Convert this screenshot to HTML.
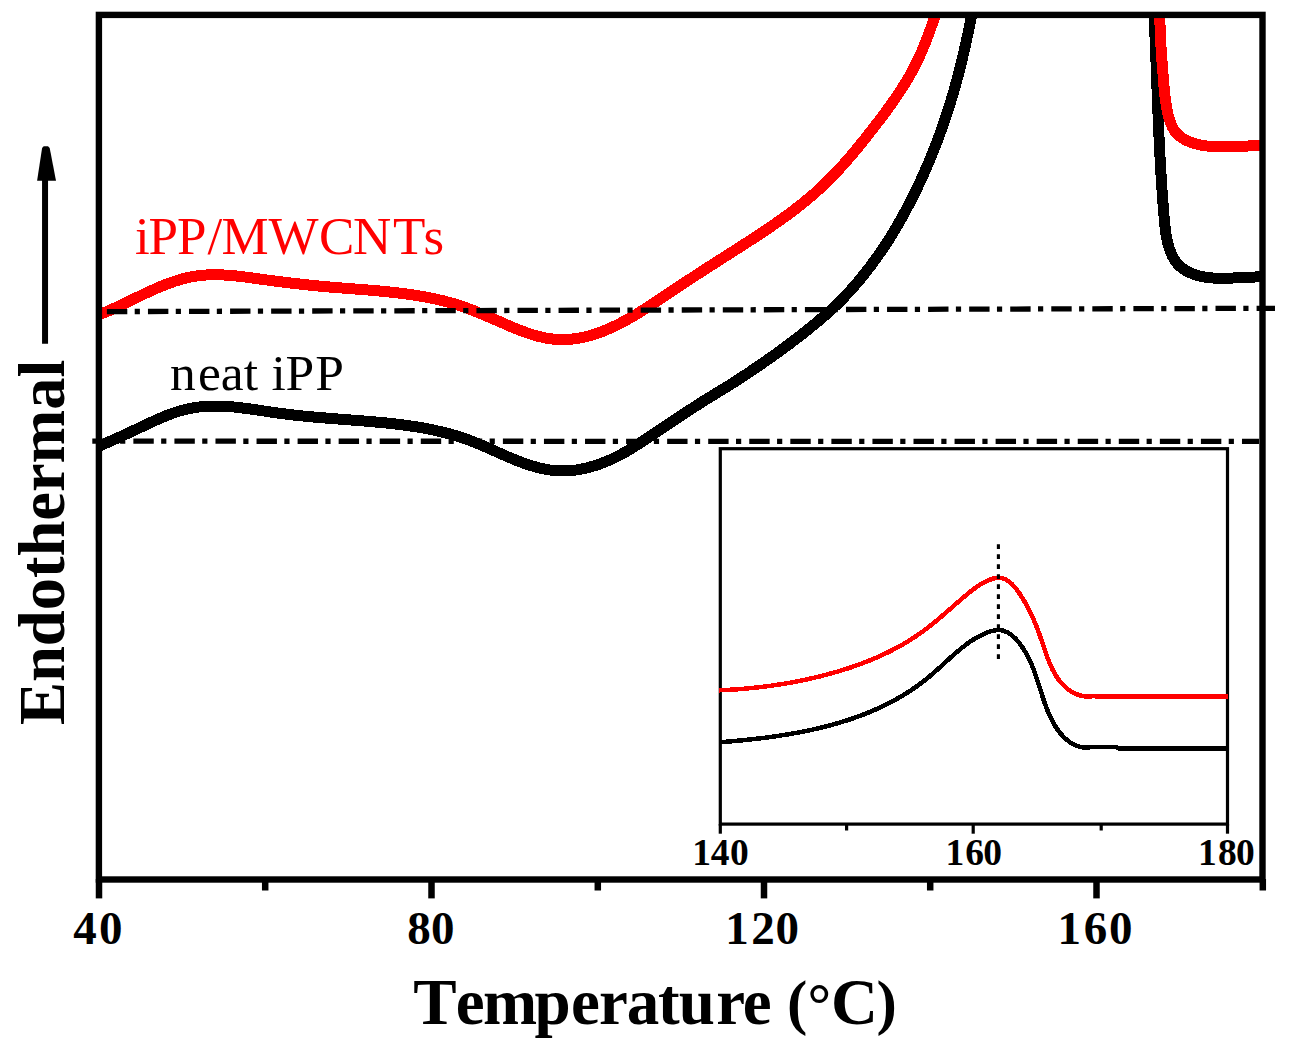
<!DOCTYPE html>
<html><head><meta charset="utf-8"><style>
html,body{margin:0;padding:0;background:#fff;overflow:hidden;}
svg{display:block;}
text{font-family:"Liberation Serif",serif;}
</style></head><body>
<svg width="1289" height="1055" viewBox="0 0 1289 1055">
<rect width="1289" height="1055" fill="#fff"/>
<defs><clipPath id="pc"><rect x="99" y="15" width="1163" height="864"/></clipPath></defs>
<g clip-path="url(#pc)" shape-rendering="crispEdges" fill="none" stroke-width="11" stroke-linejoin="round" stroke-linecap="butt">
<path d="M95.98,447.35 L98.64,446.25 L101.28,445.14 L103.92,444.02 L106.56,442.88 L109.19,441.73 L111.81,440.57 L114.43,439.40 L117.05,438.23 L119.66,437.04 L122.27,435.85 L124.88,434.64 L127.48,433.44 L130.09,432.22 L132.69,431.01 L135.30,429.79 L137.90,428.56 L140.51,427.33 L143.12,426.11 L145.73,424.88 L148.34,423.65 L150.96,422.42 L153.58,421.21 L156.21,420.01 L158.85,418.83 L161.50,417.67 L164.16,416.55 L166.83,415.47 L169.51,414.43 L172.21,413.43 L174.92,412.50 L177.65,411.61 L180.39,410.80 L183.16,410.04 L185.93,409.35 L188.73,408.73 L191.53,408.16 L194.34,407.67 L197.17,407.23 L200.00,406.87 L202.85,406.56 L205.69,406.33 L208.55,406.16 L211.41,406.05 L214.27,406.01 L217.14,406.02 L220.00,406.08 L222.88,406.19 L225.75,406.35 L228.62,406.55 L231.50,406.79 L234.37,407.06 L237.25,407.36 L240.12,407.69 L242.99,408.05 L245.87,408.42 L248.73,408.81 L251.60,409.21 L254.46,409.62 L257.32,410.03 L260.18,410.45 L263.03,410.87 L265.89,411.30 L268.74,411.72 L271.59,412.13 L274.44,412.54 L277.28,412.94 L280.13,413.33 L282.98,413.70 L285.83,414.06 L288.68,414.41 L291.53,414.74 L294.37,415.07 L297.22,415.38 L300.07,415.68 L302.92,415.98 L305.78,416.26 L308.63,416.53 L311.48,416.80 L314.33,417.06 L317.19,417.31 L320.04,417.56 L322.90,417.80 L325.75,418.04 L328.61,418.27 L331.47,418.50 L334.33,418.72 L337.19,418.94 L340.06,419.16 L342.92,419.38 L345.79,419.60 L348.66,419.82 L351.53,420.04 L354.40,420.26 L357.27,420.48 L360.14,420.71 L363.02,420.93 L365.89,421.17 L368.77,421.40 L371.65,421.65 L374.53,421.90 L377.40,422.15 L380.28,422.42 L383.15,422.69 L386.03,422.98 L388.90,423.28 L391.77,423.59 L394.64,423.91 L397.50,424.24 L400.37,424.59 L403.23,424.96 L406.08,425.34 L408.94,425.74 L411.78,426.16 L414.63,426.59 L417.47,427.05 L420.30,427.52 L423.13,428.02 L425.96,428.54 L428.77,429.08 L431.59,429.65 L434.39,430.24 L437.19,430.85 L439.98,431.50 L442.77,432.17 L445.54,432.87 L448.31,433.59 L451.07,434.35 L453.82,435.14 L456.56,435.96 L459.30,436.81 L462.02,437.70 L464.73,438.62 L467.43,439.58 L470.13,440.57 L472.81,441.60 L475.48,442.66 L478.15,443.74 L480.80,444.86 L483.45,445.99 L486.10,447.15 L488.74,448.31 L491.38,449.49 L494.02,450.67 L496.65,451.86 L499.29,453.04 L501.93,454.22 L504.58,455.38 L507.22,456.54 L509.87,457.68 L512.53,458.80 L515.20,459.89 L517.88,460.96 L520.56,461.99 L523.26,462.99 L525.97,463.95 L528.69,464.86 L531.42,465.73 L534.18,466.55 L536.94,467.31 L539.72,468.01 L542.51,468.65 L545.31,469.22 L548.12,469.72 L550.94,470.15 L553.77,470.49 L556.61,470.75 L559.45,470.92 L562.29,471.00 L565.14,470.98 L567.99,470.87 L570.85,470.65 L573.70,470.34 L576.55,469.95 L579.39,469.47 L582.22,468.92 L585.05,468.30 L587.86,467.61 L590.66,466.86 L593.44,466.05 L596.21,465.18 L598.96,464.25 L601.68,463.27 L604.39,462.23 L607.07,461.14 L609.73,459.99 L612.36,458.80 L614.96,457.56 L617.53,456.27 L620.08,454.94 L622.60,453.57 L625.10,452.16 L627.57,450.72 L630.03,449.25 L632.47,447.75 L634.90,446.23 L637.32,444.69 L639.73,443.14 L642.13,441.57 L644.52,439.99 L646.92,438.41 L649.31,436.82 L651.70,435.23 L654.09,433.64 L656.48,432.04 L658.87,430.44 L661.26,428.84 L663.65,427.24 L666.04,425.64 L668.43,424.04 L670.83,422.44 L673.22,420.85 L675.62,419.25 L678.01,417.66 L680.41,416.06 L682.82,414.48 L685.22,412.89 L687.63,411.32 L690.04,409.74 L692.45,408.17 L694.87,406.61 L697.29,405.06 L699.71,403.51 L702.14,401.97 L704.58,400.44 L707.01,398.92 L709.46,397.41 L711.91,395.91 L714.36,394.41 L716.81,392.92 L719.26,391.43 L721.72,389.94 L724.17,388.44 L726.61,386.94 L729.05,385.43 L731.49,383.90 L733.91,382.37 L736.33,380.81 L738.74,379.25 L741.14,377.68 L743.54,376.09 L745.94,374.51 L748.33,372.91 L750.72,371.31 L753.11,369.71 L755.50,368.09 L757.88,366.47 L760.25,364.85 L762.62,363.21 L764.99,361.57 L767.35,359.93 L769.71,358.27 L772.06,356.61 L774.40,354.94 L776.74,353.27 L779.08,351.58 L781.40,349.89 L783.72,348.19 L786.03,346.48 L788.34,344.77 L790.63,343.04 L792.92,341.31 L795.21,339.56 L797.48,337.81 L799.75,336.05 L802.01,334.28 L804.26,332.50 L806.51,330.71 L808.75,328.91 L810.98,327.10 L813.20,325.28 L815.41,323.45 L817.62,321.60 L819.82,319.75 L822.01,317.88 L824.19,316.00 L826.35,314.11 L828.50,312.20 L830.63,310.27 L832.75,308.32 L834.85,306.36 L836.93,304.37 L838.99,302.37 L841.03,300.34 L843.05,298.29 L845.05,296.22 L847.03,294.13 L848.99,292.02 L850.92,289.89 L852.84,287.75 L854.74,285.58 L856.61,283.40 L858.47,281.20 L860.31,278.99 L862.13,276.76 L863.94,274.52 L865.72,272.26 L867.49,269.99 L869.24,267.70 L870.97,265.41 L872.69,263.10 L874.39,260.78 L876.08,258.45 L877.74,256.11 L879.39,253.76 L881.03,251.40 L882.65,249.03 L884.25,246.65 L885.83,244.26 L887.40,241.86 L888.95,239.45 L890.48,237.03 L891.99,234.59 L893.48,232.15 L894.96,229.70 L896.41,227.23 L897.85,224.76 L899.27,222.27 L900.67,219.78 L902.06,217.27 L903.44,214.76 L904.80,212.24 L906.16,209.71 L907.50,207.17 L908.83,204.62 L910.15,202.07 L911.46,199.51 L912.75,196.94 L914.03,194.37 L915.30,191.79 L916.56,189.20 L917.81,186.60 L919.04,184.00 L920.26,181.39 L921.47,178.77 L922.66,176.15 L923.85,173.52 L925.02,170.89 L926.17,168.25 L927.32,165.61 L928.45,162.96 L929.57,160.30 L930.67,157.64 L931.76,154.98 L932.84,152.31 L933.91,149.64 L934.96,146.96 L936.00,144.28 L937.03,141.59 L938.04,138.90 L939.04,136.21 L940.03,133.51 L941.01,130.81 L941.97,128.10 L942.92,125.39 L943.86,122.68 L944.78,119.96 L945.69,117.24 L946.59,114.51 L947.48,111.78 L948.36,109.05 L949.22,106.31 L950.08,103.57 L950.92,100.82 L951.75,98.07 L952.56,95.32 L953.37,92.56 L954.17,89.81 L954.95,87.04 L955.72,84.27 L956.48,81.50 L957.24,78.73 L957.98,75.95 L958.70,73.17 L959.42,70.38 L960.13,67.60 L960.83,64.80 L961.52,62.01 L962.19,59.21 L962.86,56.41 L963.52,53.60 L964.16,50.80 L964.80,47.99 L965.43,45.17 L966.05,42.36 L966.66,39.54 L967.26,36.73 L967.85,33.91 L968.43,31.09 L969.00,28.27 L969.56,25.45 L970.12,22.63 L970.67,19.81 L971.21,16.98 L971.74,14.16 L972.26,11.34 L972.77,8.52 L973.28,5.70 L973.78,2.88 L974.27,0.07" stroke="#000"/>
<path d="M1153.37,-0.08 L1153.46,1.74 L1153.55,3.57 L1153.64,5.39 L1153.73,7.22 L1153.81,9.04 L1153.90,10.86 L1153.98,12.69 L1154.07,14.51 L1154.15,16.33 L1154.23,18.15 L1154.31,19.97 L1154.39,21.79 L1154.47,23.61 L1154.55,25.43 L1154.63,27.25 L1154.71,29.07 L1154.78,30.88 L1154.86,32.70 L1154.94,34.52 L1155.01,36.33 L1155.08,38.15 L1155.16,39.96 L1155.23,41.78 L1155.30,43.59 L1155.38,45.41 L1155.45,47.22 L1155.52,49.03 L1155.59,50.85 L1155.66,52.66 L1155.73,54.47 L1155.80,56.28 L1155.87,58.09 L1155.94,59.90 L1156.01,61.72 L1156.07,63.53 L1156.14,65.34 L1156.21,67.15 L1156.28,68.96 L1156.35,70.77 L1156.41,72.58 L1156.48,74.39 L1156.55,76.19 L1156.62,78.00 L1156.69,79.81 L1156.75,81.62 L1156.82,83.43 L1156.89,85.24 L1156.96,87.05 L1157.03,88.85 L1157.10,90.66 L1157.17,92.47 L1157.23,94.28 L1157.30,96.09 L1157.37,97.89 L1157.44,99.70 L1157.51,101.51 L1157.59,103.32 L1157.66,105.12 L1157.73,106.93 L1157.80,108.74 L1157.88,110.55 L1157.95,112.36 L1158.02,114.16 L1158.10,115.97 L1158.17,117.78 L1158.25,119.59 L1158.33,121.39 L1158.40,123.20 L1158.48,125.01 L1158.56,126.82 L1158.64,128.63 L1158.72,130.44 L1158.80,132.25 L1158.89,134.06 L1158.97,135.86 L1159.05,137.67 L1159.14,139.48 L1159.22,141.29 L1159.31,143.10 L1159.40,144.91 L1159.49,146.72 L1159.58,148.54 L1159.67,150.35 L1159.77,152.16 L1159.86,153.97 L1159.95,155.78 L1160.05,157.59 L1160.15,159.41 L1160.25,161.22 L1160.35,163.03 L1160.45,164.85 L1160.55,166.66 L1160.66,168.48 L1160.77,170.29 L1160.87,172.11 L1160.98,173.92 L1161.09,175.74 L1161.21,177.56 L1161.32,179.37 L1161.44,181.19 L1161.55,183.01 L1161.67,184.83 L1161.79,186.65 L1161.91,188.47 L1162.04,190.29 L1162.16,192.11 L1162.29,193.93 L1162.42,195.75 L1162.55,197.57 L1162.69,199.40 L1162.82,201.22 L1162.96,203.04 L1163.10,204.87 L1163.24,206.69 L1163.38,208.52 L1163.53,210.35 L1163.68,212.18 L1163.83,214.00 L1163.98,215.83 L1164.13,217.66 L1164.29,219.49 L1164.45,221.32 L1164.63,223.15 L1164.81,224.97 L1165.00,226.79 L1165.21,228.61 L1165.44,230.42 L1165.69,232.23 L1165.96,234.03 L1166.26,235.82 L1166.58,237.60 L1166.93,239.38 L1167.31,241.14 L1167.73,242.89 L1168.18,244.63 L1168.67,246.35 L1169.21,248.07 L1169.78,249.76 L1170.41,251.44 L1171.08,253.11 L1171.80,254.75 L1172.57,256.37 L1173.41,257.96 L1174.31,259.50 L1175.28,260.99 L1176.32,262.43 L1177.44,263.79 L1178.64,265.08 L1179.91,266.29 L1181.26,267.44 L1182.66,268.52 L1184.13,269.52 L1185.64,270.47 L1187.21,271.35 L1188.81,272.16 L1190.46,272.92 L1192.13,273.62 L1193.83,274.25 L1195.55,274.84 L1197.29,275.36 L1199.04,275.84 L1200.81,276.26 L1202.59,276.64 L1204.37,276.97 L1206.17,277.26 L1207.98,277.50 L1209.80,277.71 L1211.62,277.88 L1213.45,278.02 L1215.28,278.13 L1217.12,278.21 L1218.97,278.26 L1220.81,278.28 L1222.66,278.29 L1224.51,278.27 L1226.36,278.23 L1228.21,278.18 L1230.05,278.12 L1231.89,278.05 L1233.73,277.96 L1235.56,277.88 L1237.39,277.78 L1239.21,277.69 L1241.02,277.60 L1242.83,277.51 L1244.62,277.42 L1246.41,277.34 L1248.19,277.26 L1249.97,277.19 L1251.75,277.12 L1253.53,277.06 L1255.31,277.00 L1257.09,276.95 L1258.88,276.90 L1260.68,276.85 L1262.49,276.81 L1264.30,276.77 L1266.13,276.73 L1267.98,276.70" stroke="#000"/>
<path d="M96.10,315.77 L98.38,314.93 L100.66,314.06 L102.94,313.15 L105.22,312.22 L107.50,311.26 L109.78,310.28 L112.06,309.27 L114.34,308.24 L116.63,307.19 L118.91,306.13 L121.20,305.05 L123.48,303.96 L125.77,302.86 L128.06,301.76 L130.35,300.64 L132.65,299.53 L134.94,298.41 L137.25,297.29 L139.55,296.18 L141.85,295.07 L144.16,293.97 L146.48,292.88 L148.80,291.80 L151.12,290.73 L153.44,289.68 L155.77,288.65 L158.11,287.64 L160.45,286.65 L162.80,285.69 L165.15,284.75 L167.51,283.84 L169.87,282.97 L172.24,282.12 L174.61,281.31 L177.00,280.54 L179.39,279.81 L181.78,279.12 L184.18,278.48 L186.60,277.88 L189.01,277.33 L191.44,276.83 L193.88,276.39 L196.32,275.99 L198.77,275.66 L201.23,275.38 L203.70,275.15 L206.17,274.98 L208.66,274.86 L211.15,274.78 L213.64,274.74 L216.14,274.75 L218.65,274.79 L221.16,274.88 L223.67,274.99 L226.19,275.14 L228.71,275.32 L231.24,275.53 L233.77,275.76 L236.30,276.01 L238.83,276.29 L241.36,276.58 L243.89,276.88 L246.42,277.20 L248.96,277.54 L251.49,277.87 L254.02,278.22 L256.55,278.57 L259.07,278.92 L261.60,279.27 L264.12,279.61 L266.64,279.95 L269.15,280.29 L271.67,280.62 L274.18,280.95 L276.69,281.28 L279.19,281.59 L281.70,281.91 L284.20,282.22 L286.70,282.52 L289.20,282.82 L291.70,283.12 L294.19,283.41 L296.69,283.70 L299.19,283.98 L301.68,284.25 L304.18,284.52 L306.67,284.79 L309.16,285.05 L311.66,285.31 L314.15,285.56 L316.65,285.81 L319.15,286.05 L321.64,286.28 L324.14,286.51 L326.64,286.74 L329.14,286.96 L331.64,287.18 L334.15,287.39 L336.65,287.59 L339.16,287.79 L341.67,287.99 L344.18,288.19 L346.69,288.38 L349.20,288.57 L351.72,288.76 L354.23,288.95 L356.75,289.15 L359.26,289.34 L361.78,289.53 L364.29,289.73 L366.81,289.93 L369.33,290.13 L371.84,290.34 L374.36,290.56 L376.88,290.77 L379.39,291.00 L381.91,291.23 L384.42,291.47 L386.94,291.72 L389.45,291.97 L391.97,292.24 L394.48,292.51 L396.99,292.80 L399.50,293.09 L402.01,293.40 L404.52,293.72 L407.02,294.06 L409.53,294.40 L412.03,294.76 L414.53,295.14 L417.03,295.53 L419.52,295.94 L422.02,296.37 L424.51,296.81 L426.99,297.27 L429.47,297.75 L431.95,298.26 L434.42,298.78 L436.88,299.32 L439.34,299.88 L441.79,300.47 L444.23,301.08 L446.67,301.72 L449.09,302.38 L451.51,303.06 L453.92,303.77 L456.31,304.51 L458.70,305.28 L461.07,306.07 L463.44,306.88 L465.80,307.72 L468.15,308.58 L470.49,309.46 L472.83,310.36 L475.16,311.28 L477.49,312.22 L479.81,313.17 L482.14,314.13 L484.45,315.10 L486.77,316.09 L489.09,317.08 L491.41,318.09 L493.73,319.10 L496.05,320.11 L498.37,321.13 L500.70,322.15 L503.03,323.17 L505.37,324.19 L507.71,325.21 L510.06,326.21 L512.41,327.20 L514.77,328.18 L517.13,329.14 L519.50,330.08 L521.87,330.99 L524.25,331.87 L526.63,332.72 L529.02,333.54 L531.42,334.32 L533.83,335.06 L536.24,335.76 L538.66,336.40 L541.08,337.00 L543.51,337.54 L545.96,338.03 L548.40,338.45 L550.86,338.82 L553.32,339.11 L555.80,339.34 L558.28,339.49 L560.77,339.57 L563.26,339.58 L565.76,339.52 L568.25,339.40 L570.75,339.21 L573.25,338.95 L575.74,338.63 L578.23,338.25 L580.71,337.81 L583.19,337.30 L585.65,336.75 L588.11,336.13 L590.55,335.46 L592.98,334.74 L595.39,333.97 L597.79,333.15 L600.18,332.29 L602.56,331.39 L604.92,330.44 L607.26,329.46 L609.59,328.45 L611.90,327.40 L614.20,326.32 L616.48,325.21 L618.74,324.08 L620.99,322.92 L623.22,321.74 L625.44,320.54 L627.64,319.31 L629.83,318.07 L632.01,316.80 L634.18,315.52 L636.34,314.23 L638.49,312.91 L640.63,311.59 L642.76,310.25 L644.88,308.90 L647.00,307.53 L649.11,306.16 L651.22,304.79 L653.33,303.40 L655.43,302.01 L657.52,300.62 L659.62,299.22 L661.72,297.82 L663.81,296.42 L665.91,295.02 L668.00,293.62 L670.10,292.23 L672.20,290.83 L674.30,289.44 L676.41,288.05 L678.51,286.66 L680.61,285.27 L682.72,283.89 L684.83,282.50 L686.94,281.12 L689.05,279.74 L691.16,278.36 L693.27,276.98 L695.38,275.61 L697.50,274.23 L699.61,272.86 L701.73,271.49 L703.85,270.12 L705.97,268.75 L708.09,267.39 L710.21,266.02 L712.33,264.66 L714.45,263.30 L716.58,261.94 L718.70,260.58 L720.83,259.22 L722.96,257.87 L725.08,256.51 L727.21,255.16 L729.34,253.80 L731.46,252.44 L733.59,251.09 L735.72,249.73 L737.84,248.37 L739.97,247.01 L742.09,245.65 L744.21,244.28 L746.33,242.91 L748.45,241.54 L750.57,240.17 L752.68,238.79 L754.79,237.41 L756.90,236.03 L759.01,234.64 L761.11,233.24 L763.21,231.84 L765.31,230.44 L767.40,229.03 L769.49,227.61 L771.58,226.19 L773.66,224.76 L775.73,223.32 L777.80,221.87 L779.86,220.42 L781.91,218.96 L783.96,217.49 L786.00,216.01 L788.04,214.52 L790.06,213.02 L792.08,211.51 L794.09,209.99 L796.09,208.46 L798.08,206.91 L800.06,205.36 L802.03,203.79 L803.99,202.22 L805.94,200.62 L807.87,199.02 L809.80,197.40 L811.71,195.77 L813.61,194.12 L815.50,192.46 L817.37,190.79 L819.23,189.10 L821.08,187.39 L822.91,185.67 L824.73,183.93 L826.53,182.18 L828.32,180.41 L830.10,178.63 L831.87,176.83 L833.62,175.02 L835.36,173.20 L837.09,171.37 L838.81,169.52 L840.51,167.66 L842.21,165.79 L843.89,163.91 L845.57,162.02 L847.23,160.12 L848.89,158.21 L850.54,156.30 L852.17,154.37 L853.80,152.43 L855.43,150.49 L857.04,148.54 L858.65,146.58 L860.24,144.62 L861.84,142.65 L863.42,140.68 L865.00,138.70 L866.57,136.71 L868.14,134.73 L869.70,132.74 L871.26,130.74 L872.81,128.74 L874.36,126.74 L875.90,124.74 L877.44,122.73 L878.98,120.73 L880.51,118.72 L882.03,116.70 L883.54,114.68 L885.05,112.66 L886.55,110.63 L888.03,108.60 L889.51,106.56 L890.98,104.51 L892.43,102.46 L893.88,100.40 L895.31,98.33 L896.73,96.26 L898.13,94.17 L899.52,92.08 L900.89,89.98 L902.25,87.87 L903.59,85.75 L904.91,83.62 L906.22,81.47 L907.50,79.32 L908.77,77.15 L910.02,74.98 L911.24,72.78 L912.45,70.58 L913.63,68.36 L914.79,66.13 L915.92,63.89 L917.04,61.63 L918.13,59.35 L919.19,57.06 L920.24,54.76 L921.26,52.45 L922.26,50.13 L923.25,47.80 L924.21,45.46 L925.16,43.11 L926.09,40.75 L927.01,38.39 L927.91,36.02 L928.80,33.64 L929.67,31.27 L930.53,28.88 L931.38,26.50 L932.22,24.11 L933.05,21.73 L933.87,19.34 L934.68,16.95 L935.48,14.57 L936.28,12.19 L937.07,9.81 L937.85,7.43 L938.63,5.06" stroke="#f00"/>
<path d="M1160.12,-0.04 L1160.08,1.14 L1160.04,2.31 L1160.00,3.48 L1159.97,4.66 L1159.95,5.83 L1159.93,7.00 L1159.91,8.17 L1159.89,9.33 L1159.88,10.50 L1159.87,11.67 L1159.87,12.83 L1159.87,13.99 L1159.87,15.16 L1159.88,16.32 L1159.88,17.48 L1159.90,18.64 L1159.91,19.80 L1159.93,20.96 L1159.95,22.11 L1159.97,23.27 L1160.00,24.43 L1160.03,25.58 L1160.06,26.74 L1160.10,27.89 L1160.14,29.04 L1160.18,30.20 L1160.22,31.35 L1160.26,32.50 L1160.31,33.65 L1160.36,34.80 L1160.41,35.96 L1160.47,37.11 L1160.52,38.26 L1160.58,39.41 L1160.64,40.56 L1160.70,41.71 L1160.77,42.86 L1160.83,44.01 L1160.90,45.16 L1160.97,46.31 L1161.04,47.46 L1161.11,48.60 L1161.19,49.75 L1161.26,50.90 L1161.34,52.05 L1161.42,53.20 L1161.50,54.35 L1161.58,55.51 L1161.66,56.66 L1161.74,57.81 L1161.82,58.96 L1161.91,60.11 L1161.99,61.26 L1162.08,62.42 L1162.17,63.57 L1162.25,64.72 L1162.34,65.88 L1162.43,67.03 L1162.52,68.19 L1162.61,69.34 L1162.70,70.50 L1162.79,71.66 L1162.88,72.81 L1162.98,73.97 L1163.07,75.13 L1163.16,76.29 L1163.25,77.46 L1163.34,78.62 L1163.43,79.78 L1163.53,80.95 L1163.62,82.11 L1163.71,83.28 L1163.81,84.44 L1163.91,85.61 L1164.01,86.77 L1164.11,87.94 L1164.22,89.11 L1164.33,90.27 L1164.44,91.44 L1164.56,92.60 L1164.68,93.77 L1164.81,94.93 L1164.94,96.10 L1165.08,97.26 L1165.23,98.42 L1165.38,99.58 L1165.54,100.74 L1165.70,101.90 L1165.87,103.06 L1166.05,104.22 L1166.24,105.37 L1166.44,106.52 L1166.65,107.67 L1166.86,108.82 L1167.09,109.97 L1167.32,111.12 L1167.57,112.26 L1167.83,113.40 L1168.09,114.54 L1168.37,115.67 L1168.66,116.80 L1168.97,117.93 L1169.29,119.05 L1169.63,120.16 L1169.99,121.26 L1170.37,122.35 L1170.77,123.42 L1171.20,124.48 L1171.65,125.52 L1172.12,126.54 L1172.63,127.54 L1173.16,128.52 L1173.73,129.47 L1174.32,130.40 L1174.96,131.31 L1175.62,132.18 L1176.33,133.02 L1177.07,133.83 L1177.85,134.61 L1178.66,135.36 L1179.51,136.08 L1180.39,136.77 L1181.29,137.43 L1182.23,138.06 L1183.19,138.67 L1184.17,139.24 L1185.18,139.79 L1186.21,140.32 L1187.26,140.82 L1188.33,141.29 L1189.41,141.74 L1190.50,142.17 L1191.61,142.57 L1192.73,142.95 L1193.86,143.31 L1195.00,143.64 L1196.15,143.96 L1197.30,144.25 L1198.45,144.52 L1199.61,144.78 L1200.77,145.02 L1201.93,145.23 L1203.10,145.44 L1204.27,145.62 L1205.45,145.79 L1206.62,145.94 L1207.80,146.08 L1208.97,146.20 L1210.15,146.32 L1211.33,146.42 L1212.51,146.50 L1213.69,146.58 L1214.86,146.64 L1216.04,146.70 L1217.21,146.75 L1218.39,146.78 L1219.56,146.81 L1220.72,146.83 L1221.89,146.85 L1223.05,146.86 L1224.21,146.86 L1225.37,146.86 L1226.52,146.85 L1227.67,146.83 L1228.82,146.82 L1229.97,146.79 L1231.12,146.76 L1232.27,146.73 L1233.41,146.69 L1234.56,146.65 L1235.70,146.61 L1236.85,146.56 L1237.99,146.51 L1239.13,146.46 L1240.27,146.41 L1241.41,146.35 L1242.56,146.30 L1243.70,146.24 L1244.84,146.18 L1245.98,146.12 L1247.13,146.06 L1248.27,146.00 L1249.42,145.94 L1250.57,145.88 L1251.72,145.82 L1252.87,145.76 L1254.02,145.71 L1255.17,145.65 L1256.33,145.60 L1257.49,145.55 L1258.65,145.51 L1259.81,145.46 L1260.98,145.42 L1262.14,145.38 L1263.32,145.35 L1264.49,145.32 L1265.67,145.30 L1266.85,145.28 L1268.04,145.26" stroke="#f00"/>
</g>
<g stroke="#000" stroke-width="5.3" fill="none" stroke-dasharray="20.4 7.4 5.2 8.06">
<line x1="106.9" y1="311.6" x2="1275" y2="308.3"/>
<line x1="92.3" y1="441.2" x2="1259" y2="441.4"/>
</g>
<rect x="98.9" y="14.9" width="1163.6" height="864.6" fill="none" stroke="#000" stroke-width="6.4"/>
<g stroke="#000" stroke-width="6.5"><line x1="99.0" y1="879" x2="99.0" y2="898.4"/><line x1="265.2" y1="879" x2="265.2" y2="890.5"/><line x1="431.5" y1="879" x2="431.5" y2="898.4"/><line x1="597.8" y1="879" x2="597.8" y2="890.5"/><line x1="764.0" y1="879" x2="764.0" y2="898.4"/><line x1="930.2" y1="879" x2="930.2" y2="890.5"/><line x1="1096.5" y1="879" x2="1096.5" y2="898.4"/><line x1="1262.8" y1="879" x2="1262.8" y2="890.5"/></g>
<g font-size="47" font-weight="bold" fill="#000"><text x="73.20 99.05" y="943.9">40</text><text x="407.20 430.95" y="943.9">80</text><text x="725.20 751.30 775.55" y="943.9">120</text><text x="1057.60 1083.70 1109.05" y="943.9">160</text></g>
<g font-weight="bold"><text x="413.2 455.8 483.1 534.4 571.0 599.1 626.8 657.9 678.7 716.3 742.8" y="1023.7" font-size="65">Temperature</text><text x="830.9" y="1023.7" font-size="65">C</text><text x="787.0" y="1022.9" font-size="61">(</text><text x="876.45" y="1022.9" font-size="61">)</text><text x="807.4" y="1024.8" font-size="59">°</text></g>
<text transform="translate(63.9,725.1) rotate(-90)" x="0" y="0" font-size="65" font-weight="bold" textLength="365.5" lengthAdjust="spacingAndGlyphs">Endothermal</text>
<line x1="45.05" y1="180" x2="45.05" y2="343.8" stroke="#000" stroke-width="6"/>
<path d="M43.7,146.2 L48,146.2 L49.7,148 L56,180.8 L37.1,180.8 L42.1,148 Z" fill="#000"/>
<text x="135.0 148.4 177.0 207.4 221.6 268.6 318.9 353.1 393.0 423.5" y="253.8" font-size="53" fill="#f00">iPP/MWCNTs</text>
<text x="169.9 198.0 220.8 243.8 258.2 271.5 285.5 315.3" y="389.7" font-size="51.5" fill="#000">neat iPP</text>
<rect x="720.3" y="448.7" width="507.2" height="375.4" fill="#fff" stroke="#000" stroke-width="3.2"/>
<g fill="none" stroke-width="4.5" stroke-linejoin="round" shape-rendering="crispEdges">
<path d="M719.01,690.32 L720.58,690.25 L722.16,690.18 L723.73,690.10 L725.30,690.02 L726.87,689.94 L728.45,689.85 L730.02,689.76 L731.59,689.66 L733.17,689.56 L734.74,689.46 L736.31,689.35 L737.88,689.23 L739.45,689.11 L741.02,688.99 L742.59,688.86 L744.16,688.73 L745.73,688.59 L747.30,688.45 L748.87,688.30 L750.44,688.15 L752.01,687.99 L753.58,687.83 L755.15,687.67 L756.71,687.50 L758.28,687.32 L759.85,687.14 L761.41,686.96 L762.98,686.77 L764.54,686.58 L766.11,686.38 L767.67,686.17 L769.23,685.97 L770.80,685.75 L772.36,685.53 L773.92,685.31 L775.48,685.08 L777.04,684.85 L778.60,684.61 L780.15,684.37 L781.71,684.12 L783.27,683.87 L784.82,683.61 L786.38,683.34 L787.93,683.08 L789.49,682.80 L791.04,682.52 L792.59,682.24 L794.14,681.95 L795.69,681.66 L797.24,681.36 L798.79,681.05 L800.33,680.74 L801.88,680.43 L803.42,680.11 L804.97,679.78 L806.51,679.45 L808.05,679.11 L809.59,678.77 L811.13,678.42 L812.67,678.07 L814.21,677.71 L815.74,677.35 L817.28,676.98 L818.81,676.61 L820.35,676.23 L821.88,675.84 L823.41,675.45 L824.94,675.05 L826.46,674.65 L827.99,674.24 L829.52,673.83 L831.04,673.41 L832.56,672.99 L834.08,672.55 L835.60,672.12 L837.12,671.68 L838.64,671.23 L840.15,670.77 L841.66,670.31 L843.17,669.85 L844.68,669.37 L846.19,668.89 L847.69,668.41 L849.19,667.92 L850.69,667.42 L852.19,666.91 L853.68,666.40 L855.17,665.88 L856.66,665.36 L858.15,664.83 L859.63,664.29 L861.11,663.74 L862.59,663.19 L864.07,662.63 L865.54,662.06 L867.01,661.49 L868.47,660.91 L869.93,660.32 L871.39,659.72 L872.85,659.12 L874.30,658.51 L875.75,657.89 L877.19,657.26 L878.63,656.62 L880.07,655.98 L881.50,655.33 L882.93,654.67 L884.35,654.01 L885.77,653.33 L887.19,652.65 L888.60,651.96 L890.00,651.26 L891.40,650.55 L892.80,649.84 L894.19,649.11 L895.58,648.38 L896.97,647.64 L898.34,646.89 L899.72,646.13 L901.08,645.36 L902.45,644.58 L903.81,643.80 L905.16,643.00 L906.50,642.20 L907.85,641.39 L909.18,640.56 L910.51,639.73 L911.84,638.89 L913.15,638.04 L914.47,637.18 L915.77,636.31 L917.07,635.43 L918.37,634.54 L919.66,633.65 L920.94,632.74 L922.22,631.82 L923.49,630.89 L924.75,629.95 L926.01,629.01 L927.26,628.05 L928.50,627.09 L929.75,626.12 L930.98,625.14 L932.21,624.15 L933.44,623.16 L934.67,622.16 L935.89,621.16 L937.10,620.15 L938.32,619.13 L939.53,618.11 L940.73,617.09 L941.94,616.06 L943.14,615.03 L944.34,614.00 L945.54,612.96 L946.74,611.92 L947.93,610.88 L949.13,609.84 L950.32,608.79 L951.51,607.75 L952.71,606.71 L953.90,605.66 L955.10,604.62 L956.29,603.58 L957.48,602.54 L958.68,601.50 L959.88,600.46 L961.08,599.43 L962.28,598.40 L963.48,597.37 L964.68,596.34 L965.89,595.32 L967.10,594.31 L968.32,593.30 L969.54,592.31 L970.78,591.32 L972.02,590.35 L973.27,589.39 L974.54,588.45 L975.82,587.53 L977.12,586.63 L978.44,585.75 L979.78,584.90 L981.14,584.07 L982.52,583.27 L983.93,582.50 L985.36,581.76 L986.82,581.06 L988.31,580.39 L989.83,579.77 L991.36,579.20 L992.90,578.72 L994.44,578.32 L995.96,578.02 L997.47,577.84 L998.94,577.79 L1000.38,577.89 L1001.79,578.12 L1003.16,578.48 L1004.49,578.96 L1005.80,579.56 L1007.06,580.26 L1008.30,581.06 L1009.51,581.96 L1010.68,582.93 L1011.82,583.99 L1012.94,585.11 L1014.03,586.29 L1015.09,587.53 L1016.12,588.82 L1017.13,590.14 L1018.11,591.49 L1019.07,592.87 L1020.00,594.26 L1020.91,595.66 L1021.80,597.06 L1022.67,598.46 L1023.52,599.85 L1024.35,601.25 L1025.16,602.64 L1025.95,604.03 L1026.72,605.42 L1027.47,606.81 L1028.21,608.19 L1028.93,609.58 L1029.63,610.97 L1030.32,612.37 L1030.99,613.76 L1031.65,615.15 L1032.30,616.55 L1032.93,617.95 L1033.55,619.36 L1034.16,620.77 L1034.76,622.18 L1035.34,623.60 L1035.92,625.02 L1036.49,626.45 L1037.05,627.88 L1037.60,629.32 L1038.14,630.77 L1038.68,632.23 L1039.21,633.69 L1039.73,635.16 L1040.25,636.64 L1040.76,638.13 L1041.27,639.63 L1041.78,641.14 L1042.29,642.65 L1042.79,644.17 L1043.30,645.70 L1043.80,647.22 L1044.32,648.76 L1044.83,650.29 L1045.36,651.82 L1045.89,653.34 L1046.43,654.87 L1046.98,656.39 L1047.54,657.91 L1048.11,659.41 L1048.70,660.91 L1049.30,662.40 L1049.92,663.88 L1050.56,665.35 L1051.21,666.80 L1051.89,668.23 L1052.59,669.65 L1053.31,671.06 L1054.06,672.44 L1054.83,673.80 L1055.63,675.15 L1056.46,676.46 L1057.32,677.76 L1058.21,679.03 L1059.13,680.27 L1060.08,681.48 L1061.07,682.67 L1062.10,683.82 L1063.16,684.94 L1064.26,686.03 L1065.40,687.08 L1066.58,688.09 L1067.80,689.06 L1069.05,689.99 L1070.33,690.86 L1071.65,691.69 L1073.00,692.46 L1074.38,693.17 L1075.80,693.82 L1077.24,694.41 L1078.72,694.93 L1080.22,695.38 L1081.75,695.76 L1083.30,696.07 L1084.89,696.29 L1086.49,696.44 L1088.12,696.50 L1089.77,696.47 L1091.45,696.35 L1093.14,696.13 L1100.00,696.50 L1228.00,696.50" stroke="#f00"/>
<path d="M719.12,742.35 L720.66,742.22 L722.19,742.10 L723.73,741.97 L725.27,741.85 L726.81,741.72 L728.35,741.59 L729.89,741.45 L731.44,741.32 L732.99,741.18 L734.53,741.04 L736.09,740.89 L737.64,740.75 L739.19,740.60 L740.74,740.45 L742.30,740.30 L743.86,740.14 L745.41,739.98 L746.97,739.82 L748.53,739.65 L750.09,739.48 L751.65,739.31 L753.22,739.14 L754.78,738.96 L756.34,738.78 L757.91,738.60 L759.47,738.41 L761.04,738.22 L762.60,738.02 L764.17,737.83 L765.74,737.62 L767.30,737.42 L768.87,737.21 L770.44,737.00 L772.01,736.78 L773.57,736.56 L775.14,736.34 L776.71,736.11 L778.27,735.87 L779.84,735.64 L781.41,735.40 L782.97,735.15 L784.54,734.90 L786.10,734.65 L787.67,734.39 L789.23,734.12 L790.80,733.86 L792.36,733.58 L793.92,733.31 L795.48,733.02 L797.04,732.74 L798.60,732.45 L800.16,732.15 L801.72,731.85 L803.27,731.54 L804.83,731.23 L806.38,730.91 L807.93,730.59 L809.48,730.26 L811.03,729.92 L812.58,729.58 L814.13,729.24 L815.67,728.89 L817.21,728.53 L818.76,728.17 L820.29,727.80 L821.83,727.43 L823.37,727.05 L824.90,726.67 L826.43,726.27 L827.96,725.88 L829.49,725.47 L831.02,725.06 L832.54,724.65 L834.06,724.22 L835.58,723.80 L837.09,723.36 L838.61,722.92 L840.12,722.47 L841.62,722.01 L843.13,721.55 L844.63,721.08 L846.13,720.61 L847.63,720.12 L849.12,719.63 L850.61,719.14 L852.10,718.63 L853.58,718.12 L855.07,717.60 L856.54,717.08 L858.02,716.55 L859.49,716.01 L860.96,715.46 L862.42,714.90 L863.88,714.34 L865.34,713.77 L866.79,713.19 L868.24,712.60 L869.69,712.01 L871.13,711.41 L872.57,710.80 L874.00,710.18 L875.43,709.55 L876.86,708.92 L878.28,708.28 L879.70,707.63 L881.11,706.97 L882.52,706.30 L883.93,705.62 L885.33,704.94 L886.72,704.25 L888.12,703.54 L889.50,702.83 L890.88,702.11 L892.26,701.39 L893.63,700.65 L895.00,699.90 L896.36,699.15 L897.72,698.38 L899.07,697.61 L900.42,696.83 L901.76,696.04 L903.10,695.24 L904.43,694.42 L905.76,693.60 L907.08,692.77 L908.39,691.94 L909.70,691.09 L911.01,690.23 L912.30,689.36 L913.60,688.48 L914.88,687.59 L916.16,686.70 L917.44,685.79 L918.71,684.87 L919.97,683.94 L921.23,683.00 L922.48,682.05 L923.72,681.09 L924.96,680.12 L926.19,679.14 L927.42,678.15 L928.64,677.15 L929.85,676.14 L931.06,675.12 L932.26,674.09 L933.46,673.05 L934.65,672.00 L935.84,670.95 L937.02,669.89 L938.20,668.83 L939.38,667.76 L940.56,666.69 L941.73,665.61 L942.91,664.54 L944.09,663.46 L945.26,662.38 L946.44,661.30 L947.61,660.23 L948.79,659.16 L949.98,658.09 L951.16,657.02 L952.35,655.96 L953.54,654.90 L954.74,653.85 L955.94,652.81 L957.15,651.78 L958.36,650.75 L959.58,649.73 L960.81,648.73 L962.05,647.73 L963.29,646.75 L964.54,645.78 L965.80,644.82 L967.07,643.88 L968.36,642.95 L969.65,642.04 L970.95,641.15 L972.27,640.28 L973.60,639.43 L974.95,638.60 L976.31,637.80 L977.68,637.02 L979.07,636.26 L980.48,635.53 L981.91,634.84 L983.35,634.17 L984.81,633.53 L986.29,632.92 L987.79,632.35 L989.31,631.82 L990.84,631.34 L992.38,630.92 L993.91,630.57 L995.44,630.31 L996.95,630.15 L998.44,630.10 L999.91,630.16 L1001.34,630.34 L1002.75,630.63 L1004.14,631.03 L1005.49,631.53 L1006.82,632.12 L1008.12,632.80 L1009.39,633.56 L1010.63,634.40 L1011.85,635.32 L1013.03,636.31 L1014.19,637.35 L1015.32,638.46 L1016.42,639.62 L1017.49,640.82 L1018.54,642.07 L1019.55,643.36 L1020.54,644.67 L1021.50,646.01 L1022.43,647.38 L1023.32,648.76 L1024.19,650.15 L1025.03,651.54 L1025.85,652.94 L1026.63,654.35 L1027.39,655.76 L1028.12,657.17 L1028.83,658.59 L1029.52,660.01 L1030.18,661.44 L1030.83,662.87 L1031.45,664.31 L1032.06,665.75 L1032.65,667.19 L1033.22,668.64 L1033.78,670.09 L1034.33,671.54 L1034.86,673.00 L1035.38,674.46 L1035.89,675.93 L1036.40,677.40 L1036.89,678.87 L1037.38,680.34 L1037.86,681.82 L1038.34,683.30 L1038.81,684.79 L1039.28,686.28 L1039.75,687.77 L1040.22,689.26 L1040.69,690.76 L1041.17,692.26 L1041.64,693.76 L1042.13,695.26 L1042.61,696.77 L1043.11,698.28 L1043.61,699.78 L1044.12,701.29 L1044.64,702.80 L1045.17,704.30 L1045.71,705.80 L1046.26,707.29 L1046.83,708.77 L1047.41,710.25 L1048.01,711.73 L1048.62,713.19 L1049.26,714.64 L1049.91,716.09 L1050.58,717.52 L1051.27,718.94 L1051.98,720.34 L1052.71,721.73 L1053.47,723.11 L1054.25,724.46 L1055.06,725.80 L1055.90,727.13 L1056.76,728.43 L1057.65,729.71 L1058.57,730.97 L1059.52,732.21 L1060.51,733.42 L1061.52,734.61 L1062.57,735.78 L1063.65,736.91 L1064.77,738.01 L1065.92,739.07 L1067.10,740.09 L1068.31,741.06 L1069.56,741.99 L1070.84,742.85 L1072.16,743.66 L1073.50,744.41 L1074.88,745.08 L1076.29,745.69 L1077.73,746.22 L1079.21,746.67 L1080.72,747.04 L1082.26,747.32 L1083.83,747.50 L1085.44,747.59 L1087.07,747.58 L1088.74,747.47 L1090.44,747.25 L1092.17,746.91 L1100.00,747.20 L1116.00,747.20 L1118.00,748.30 L1228.00,748.30" stroke="#000"/>
</g>
<line x1="998.4" y1="544.3" x2="998.4" y2="659.2" stroke="#000" stroke-width="3.1" stroke-dasharray="4.7 5.3"/>
<g stroke="#000" stroke-width="3.2"><line x1="846.6" y1="824" x2="846.6" y2="830.5"/><line x1="973.2" y1="824" x2="973.2" y2="833.7"/><line x1="1101.2" y1="824" x2="1101.2" y2="830.5"/><line x1="720.3" y1="824" x2="720.3" y2="833.7"/><line x1="1227.5" y1="824" x2="1227.5" y2="833.7"/></g>
<g font-size="37.5" font-weight="bold" fill="#000"><text x="692.24 710.67 729.93" y="864.6">140</text><text x="945.39 965.28 983.23" y="864.6">160</text><text x="1198.09 1217.98 1235.98" y="864.6">180</text></g>
</svg>
</body></html>
